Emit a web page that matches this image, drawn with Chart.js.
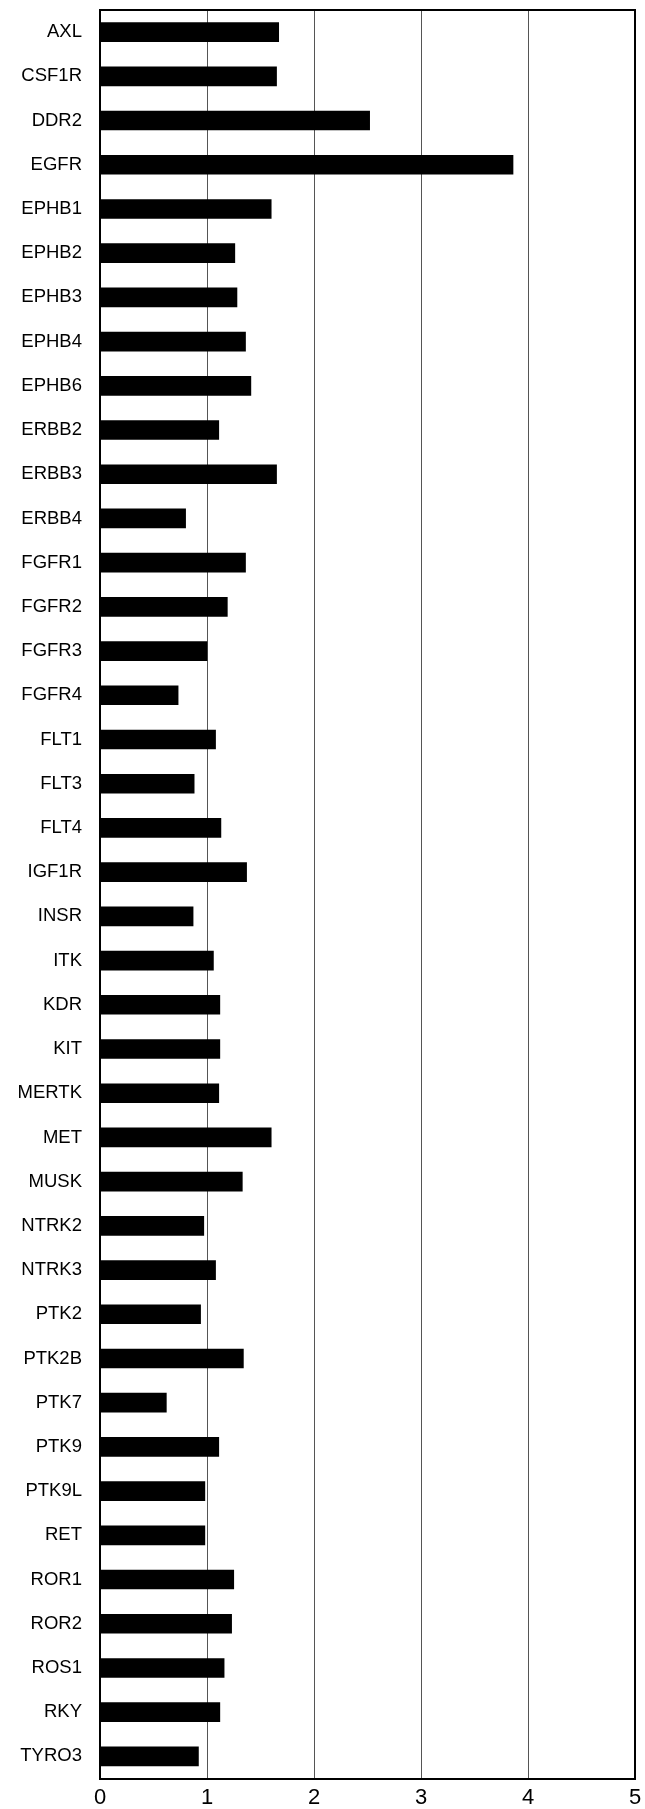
<!DOCTYPE html>
<html>
<head>
<meta charset="utf-8">
<title>Receptor tyrosine kinases</title>
<script src="https://cdn.jsdelivr.net/npm/chart.js@4/dist/chart.umd.min.js"></script>
<style>
  html, body { margin: 0; padding: 0; background: #ffffff; }
  #wrap { position: relative; width: 645px; height: 1809px; }
</style>
</head>
<body>
<div id="wrap"><canvas id="chart"></canvas></div>
<script>
// Kinase names, top to bottom
const kinases = [
  'AXL', 'CSF1R', 'DDR2', 'EGFR', 'EPHB1', 'EPHB2', 'EPHB3', 'EPHB4', 'EPHB6',
  'ERBB2', 'ERBB3', 'ERBB4', 'FGFR1', 'FGFR2', 'FGFR3', 'FGFR4', 'FLT1', 'FLT3',
  'FLT4', 'IGF1R', 'INSR', 'ITK', 'KDR', 'KIT', 'MERTK', 'MET', 'MUSK', 'NTRK2',
  'NTRK3', 'PTK2', 'PTK2B', 'PTK7', 'PTK9', 'PTK9L', 'RET', 'ROR1', 'ROR2',
  'ROS1', 'RKY', 'TYRO3'
];

// Relative values per kinase
const values = [
  1.67, 1.65, 2.52, 3.86, 1.60, 1.26, 1.28, 1.36, 1.41,
  1.11, 1.65, 0.80, 1.36, 1.19, 1.00, 0.73, 1.08, 0.88,
  1.13, 1.37, 0.87, 1.06, 1.12, 1.12, 1.11, 1.60, 1.33, 0.97,
  1.08, 0.94, 1.34, 0.62, 1.11, 0.98, 0.98, 1.25, 1.23,
  1.16, 1.12, 0.92
];

// Value axis ticks
const xTicks = [0, 1, 2, 3, 4, 5];

const FONT = '"Liberation Sans", Arial, Helvetica, sans-serif';
const edge = { display: true, color: '#000000', width: 2 };

new Chart(document.getElementById('chart'), {
  type: 'bar',
  data: {
    labels: kinases,
    datasets: [{
      data: values,
      backgroundColor: '#000000',
      borderWidth: 0,
      barThickness: 19,
      xAxisID: 'x',
      yAxisID: 'y'
    }]
  },
  options: {
    indexAxis: 'y',
    responsive: true,
    maintainAspectRatio: false,
    animation: false,
    layout: { padding: { top: 10, right: 10, left: 0, bottom: 0 } },
    plugins: {
      legend: { display: false },
      tooltip: { enabled: false }
    },
    scales: {
      x: {
        type: 'linear',
        position: 'bottom',
        min: xTicks[0],
        max: xTicks[xTicks.length - 1],
        afterBuildTicks(scale) {
          scale.ticks = xTicks.map(v => ({ value: v }));
        },
        afterFit(scale) {
          scale.height = 30.5;
          scale.paddingLeft = 0;
          scale.paddingRight = 0;
        },
        border: edge,
        grid: {
          drawTicks: false,
          lineWidth: 1,
          color: ctx => (ctx.tick && (ctx.tick.value === 0 || ctx.tick.value === 5)) ? 'rgba(0,0,0,0)' : '#555555'
        },
        ticks: {
          padding: 6,
          color: '#000000',
          font: { family: FONT, size: 22 },
          maxRotation: 0
        }
      },
      // top edge of the plot box
      xTop: {
        type: 'linear',
        position: 'top',
        min: xTicks[0],
        max: xTicks[xTicks.length - 1],
        afterFit(scale) {
          scale.height = 0;
          scale.paddingLeft = 0;
          scale.paddingRight = 0;
        },
        border: edge,
        grid: { display: false, drawTicks: false },
        ticks: { display: false }
      },
      y: {
        type: 'category',
        position: 'left',
        afterFit(scale) {
          scale.width = 100;
          scale.paddingTop = 0;
          scale.paddingBottom = 0;
        },
        border: edge,
        grid: { display: false, drawTicks: false },
        ticks: {
          padding: 18,
          color: '#000000',
          font: { family: FONT, size: 18.5 },
          autoSkip: false
        }
      },
      // right edge of the plot box
      yRight: {
        type: 'category',
        position: 'right',
        afterFit(scale) {
          scale.width = 0;
          scale.paddingTop = 0;
          scale.paddingBottom = 0;
        },
        border: edge,
        grid: { display: false, drawTicks: false },
        ticks: { display: false }
      }
    }
  }
});
</script>
</body>
</html>
